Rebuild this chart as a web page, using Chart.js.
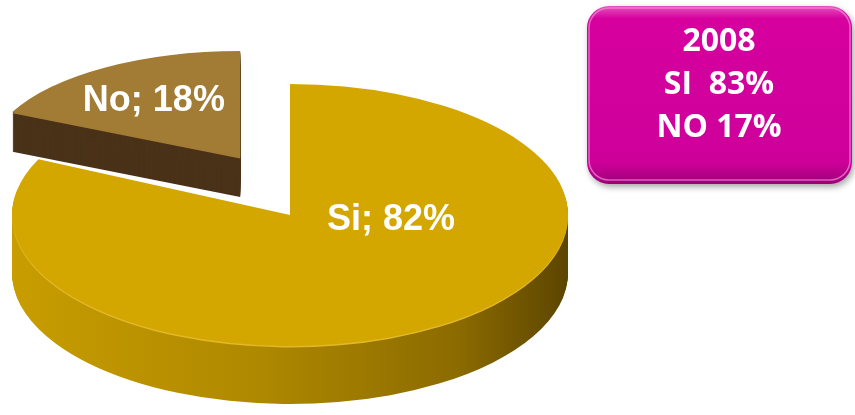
<!DOCTYPE html>
<html>
<head>
<meta charset="utf-8">
<script src="https://cdn.jsdelivr.net/npm/chart.js@4/dist/chart.umd.min.js"></script>
<style>
  html, body { margin: 0; padding: 0; background: #fff; }
  canvas { display: block; }
</style>
</head>
<body>
<canvas id="pie" width="855" height="415"></canvas>
<script>
// data
var labels = ["Si", "No"];
var values = [82, 18];
var boxLines = ["2008", "SI  83%", "NO 17%"];

// look of the fake 3d pie
var view = { cx: 290, cy: 215, R: 278, k: 131 / 278 };
var look = {
  top:    ["#D4A600", "#A27B34"],
  side:   [null, "#4A3219"],
  rim:    ["#E2B82A", "#A27B34"],
  depth:  [58, 40],
  explode:[0, 93],
  lift:   [0, -21],
  sx:     [1, 0.905],
  sy:     [1, 0.81],
  labelAngle: [5, null],
  labelR: [0.365, 0.64]
};

function sliceTransform(ctx, el, i, dy) {
  var mid = (el.startAngle + el.endAngle) / 2;
  var e = look.explode[i];
  ctx.translate(view.cx, view.cy + dy + look.lift[i]);
  ctx.scale(1, view.k);
  ctx.translate(Math.cos(mid) * e, Math.sin(mid) * e);
  ctx.scale(look.sx[i], look.sy[i]);
  ctx.translate(-el.x, -el.y);
}

function paint(ctx, el, i, dy, fill) {
  ctx.save();
  sliceTransform(ctx, el, i, dy);
  var saved = el.options;
  var f = fill;
  if (f === "sideSi") {
    var g = ctx.createLinearGradient(el.x - el.outerRadius, 0, el.x + el.outerRadius, 0);
    g.addColorStop(0, "#C89D00");
    g.addColorStop(0.45, "#AE8800");
    g.addColorStop(0.8, "#8C6B00");
    g.addColorStop(1, "#5C4500");
    f = g;
  }
  el.options = Object.assign({}, saved, { backgroundColor: f, borderWidth: 0 });
  el.draw(ctx);
  el.options = saved;
  ctx.restore();
}

var pie3d = {
  id: "pie3d",
  beforeDatasetsDraw: function (chart) {
    var ctx = chart.ctx;
    var arcs = chart.getDatasetMeta(0).data;
    arcs.forEach(function (el, i) {
      var side = i === 0 ? "sideSi" : look.side[i];
      for (var d = look.depth[i]; d >= 1; d--) paint(ctx, el, i, d, side);
      paint(ctx, el, i, 1.5, look.rim[i]);
      paint(ctx, el, i, 0, look.top[i]);
    });
    // labels
    ctx.save();
    ctx.fillStyle = "#fff";
    ctx.font = 'bold 36px "Liberation Sans", Arial, sans-serif';
    ctx.textAlign = "center";
    ctx.textBaseline = "middle";
    arcs.forEach(function (el, i) {
      var a = look.labelAngle[i] == null ? (el.startAngle + el.endAngle) / 2 : look.labelAngle[i] * Math.PI / 180;
      var r = el.outerRadius * look.labelR[i];
      ctx.save();
      sliceTransform(ctx, el, i, 0);
      var m = ctx.getTransform();
      ctx.restore();
      var p = m.transformPoint(new DOMPoint(el.x + Math.cos(a) * r, el.y + Math.sin(a) * r));
      ctx.fillText(labels[i] + "; " + values[i] + "%", p.x, p.y + 1);
    });
    ctx.restore();
    return false;
  },
  afterDraw: function (chart) {
    var ctx = chart.ctx;
    var x = 587, y = 6, w = 265, h = 178, r = 22;
    ctx.save();
    ctx.shadowColor = "rgba(0,0,0,0.35)";
    ctx.shadowBlur = 6;
    ctx.shadowOffsetX = 2;
    ctx.shadowOffsetY = 3;
    var g = ctx.createLinearGradient(0, y, 0, y + h);
    g.addColorStop(0, "#E655BE");
    g.addColorStop(0.07, "#D6009F");
    g.addColorStop(0.88, "#CE009A");
    g.addColorStop(1, "#9C0076");
    ctx.fillStyle = g;
    ctx.beginPath();
    ctx.roundRect(x, y, w, h, r);
    ctx.fill();
    ctx.shadowColor = "transparent";
    ctx.strokeStyle = "rgba(240,140,215,0.7)";
    ctx.lineWidth = 1.5;
    ctx.beginPath();
    ctx.roundRect(x + 2, y + 2, w - 4, h - 6, r - 2);
    ctx.stroke();
    ctx.fillStyle = "#fff";
    ctx.font = 'bold 32px "Open Sans", sans-serif';
    ctx.textAlign = "center";
    ctx.textBaseline = "middle";
    boxLines.forEach(function (t, i) {
      ctx.fillText(t, 719, 42 + i * 43);
    });
    ctx.restore();
  }
};

new Chart(document.getElementById("pie"), {
  type: "pie",
  data: {
    labels: labels,
    datasets: [{
      data: values,
      backgroundColor: look.top,
      borderWidth: 0
    }]
  },
  options: {
    responsive: false,
    animation: false,
    radius: view.R,
    events: [],
    plugins: {
      legend: { display: false },
      tooltip: { enabled: false }
    }
  },
  plugins: [pie3d]
});
</script>
</body>
</html>
